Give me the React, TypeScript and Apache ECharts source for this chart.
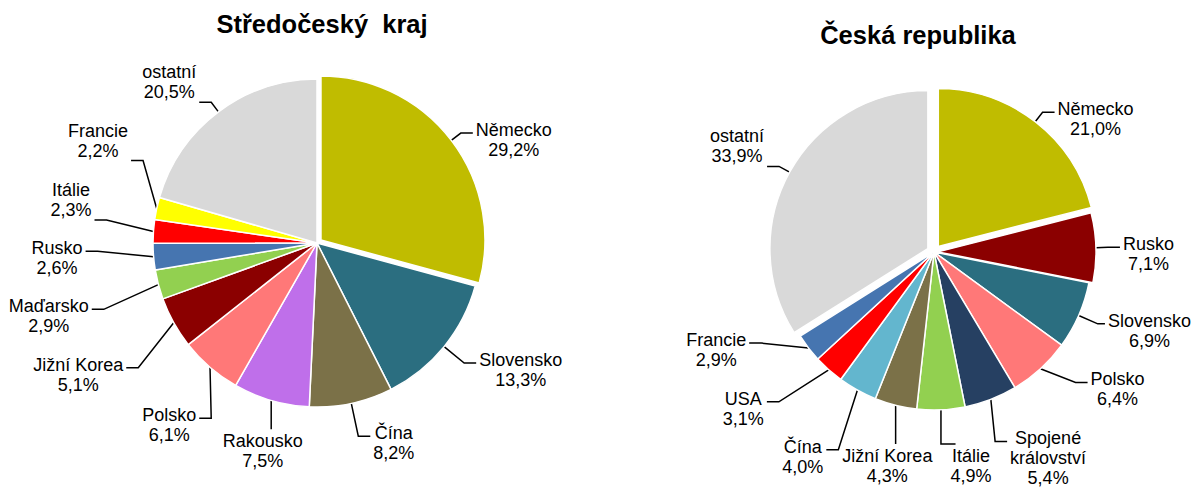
import React, { useEffect, useRef } from 'react';
import * as echarts from 'echarts';

// ---------- data ----------
const stcTitle = 'Středočeský  kraj';
const stcCategories = ['Německo', 'Slovensko', 'Čína', 'Rakousko', 'Polsko', 'Jižní Korea', 'Maďarsko', 'Rusko', 'Itálie', 'Francie', 'ostatní'];
const stcValues = [29.2, 13.3, 8.2, 7.5, 6.1, 5.1, 2.9, 2.6, 2.3, 2.2, 20.5];
const stcExploded = ['Německo'];

const crTitle = 'Česká republika';
const crCategories = ['Německo', 'Rusko', 'Slovensko', 'Polsko', 'Spojené království', 'Itálie', 'Jižní Korea', 'Čína', 'USA', 'Francie', 'ostatní'];
const crValues = [21.0, 7.1, 6.9, 6.4, 5.4, 4.9, 4.3, 4.0, 3.1, 2.9, 33.9];
const crExploded = ['Německo', 'Rusko', 'ostatní'];

// ---------- styles ----------
const stcColors = ['#C0BC00', '#2B6E80', '#7B7148', '#BF6FEA', '#FF7878', '#8B0000', '#92D050', '#4675B0', '#FF0000', '#FFFF00', '#D9D9D9'];
const crColors = ['#C0BC00', '#8B0000', '#2B6E80', '#FF7878', '#264062', '#92D050', '#7B7148', '#63B6CE', '#FF0000', '#4675B0', '#D9D9D9'];

const FONT_FAMILY = '"Liberation Sans", Arial, Helvetica, sans-serif';
const FONT_SIZE = 18;
const LINE_H = 20;
const SIDE_LEN = 12;
const SIDE_LEN_LOWER = 22;
const BOTTOM_LEN = 30;
const HSEG = 12;
const MAX_Y = 486;
const MIN_X = 3;
const MAX_X = 1191;

type PieSpec = {
  title: string;
  names: string[];
  values: number[];
  colors: string[];
  exploded: string[];
  cx: number;
  cy: number;
  r: number;
  explodeOffset: number[];
  pad: number;
  titleX: number;
  titleY: number;
};

const pies: PieSpec[] = [
  {
    title: stcTitle, names: stcCategories, values: stcValues, colors: stcColors, exploded: stcExploded,
    cx: 317, cy: 243, r: 164, explodeOffset: [5], pad: 18, titleX: 322, titleY: 24,
  },
  {
    title: crTitle, names: crCategories, values: crValues, colors: crColors, exploded: crExploded,
    cx: 934, cy: 252, r: 158, explodeOffset: [7, 4, 7], pad: 18, titleX: 918, titleY: 35,
  },
];

function labelName(n: string) {
  return n.length > 12 ? n.replace(' ', '\n') : n;
}
function labelText(n: string, v: number) {
  return labelName(n) + '\n' + v.toFixed(1).replace('.', ',') + '%';
}

type LabelItem = {
  mid: number; phi: number; w: number; h: number; off: number; L: number;
  x: number; y: number; bottom: boolean;
  bx: number; by: number; ax: number; ay: number; pts: number[][];
};

function computeLayout(p: PieSpec): LabelItem[] {
  const canvas = document.createElement('canvas');
  const ctx = canvas.getContext('2d')!;
  ctx.font = `${FONT_SIZE}px ${FONT_FAMILY}`;
  const total = p.values.reduce((a, b) => a + b, 0);
  let acc = 0;
  const isBottom = (phi: number) => {
    const s = Math.sin((phi * Math.PI) / 180);
    const c = -Math.cos((phi * Math.PI) / 180);
    return c > 0 && s > -0.3 && s < 0.1;
  };
  const items: LabelItem[] = p.values.map((v, i) => {
    const mid = ((acc + v / 2) / total) * 360;
    acc += v;
    const lines = labelText(p.names[i], v).split('\n');
    const w = Math.max(...lines.map((l) => ctx.measureText(l).width));
    const h = lines.length * LINE_H;
    const ei = p.exploded.indexOf(p.names[i]);
    const off = ei >= 0 ? p.explodeOffset[ei] : 0;
    const bottom = isBottom(mid);
    const lower = Math.max(0, -Math.cos((mid * Math.PI) / 180));
    return {
      mid, phi: mid, w, h, off, L: bottom ? BOTTOM_LEN : SIDE_LEN + SIDE_LEN_LOWER * lower,
      x: 0, y: 0, bottom, bx: 0, by: 0, ax: 0, ay: 0, pts: [],
    };
  });
  const place = (it: LabelItem) => {
    const rad = (it.phi * Math.PI) / 180;
    const sx = Math.sin(rad);
    const sy = -Math.cos(rad);
    let R = p.r + it.off + it.L;
    if (it.bottom && sy > 0) {
      const rMax = (MAX_Y - it.h - 2 - p.cy) / sy;
      R = Math.max(p.r + it.off + 8, Math.min(R, rMax));
    }
    it.bx = p.cx + R * sx;
    it.by = p.cy + R * sy;
    let x0: number;
    let y0: number;
    if (!it.bottom) {
      const right = sx > 0;
      it.ax = it.bx + (right ? HSEG : -HSEG);
      it.ay = it.by;
      const upperLeft = !right && sy < 0;
      x0 = right ? it.ax + 3 : it.ax - 3 - it.w;
      y0 = upperLeft ? it.ay - it.h : it.ay - 13;
      // keep the text inside the chart
      if (right && x0 + it.w > MAX_X) {
        x0 = MAX_X - it.w;
        it.ax = Math.max(it.bx, x0 - 3);
      } else if (!right && x0 < MIN_X) {
        x0 = MIN_X;
        it.ax = Math.min(it.bx, x0 + it.w + 3);
      }
    } else {
      it.ax = it.bx;
      it.ay = it.by;
      x0 = it.bx - it.w / 2;
      y0 = it.by + 2;
    }
    it.x = x0 + it.w / 2;
    it.y = y0 + it.h / 2;
  };
  items.forEach(place);
  const overlap = (a: LabelItem, b: LabelItem) =>
    Math.abs(a.x - b.x) < (a.w + b.w) / 2 + p.pad && Math.abs(a.y - b.y) < (a.h + b.h) / 2 + p.pad;
  const n = items.length;
  for (let iter = 0; iter < 4000; iter++) {
    let moved = false;
    for (let k = 0; k < n; k++) {
      const a = items[k];
      const b = items[(k + 1) % n];
      if (overlap(a, b)) {
        a.phi -= 0.2;
        b.phi += 0.2;
        a.L += 0.25;
        b.L += 0.25;
        place(a);
        place(b);
        moved = true;
      }
    }
    if (!moved) break;
  }
  // leader lines
  items.forEach((it) => {
    const rad = (it.mid * Math.PI) / 180;
    const ex = p.cx + (p.r + it.off) * Math.sin(rad);
    const ey = p.cy - (p.r + it.off) * Math.cos(rad);
    if (it.bottom) {
      const x0 = it.x - it.w / 2;
      const x1 = it.x + it.w / 2;
      const yEnd = it.y - it.h / 2 - 2;
      const axc = Math.min(Math.max(ex, x0 + 5), x1 - 5);
      it.pts = [[ex, ey], [ex, yEnd], [axc, yEnd]];
    } else {
      it.pts = [[ex, ey], [it.bx, it.by], [it.ax, it.ay]];
    }
  });
  return items;
}

function buildSeries(p: PieSpec): any[] {
  const layout = computeLayout(p);
  const isExp = (n: string) => p.exploded.indexOf(n) >= 0;
  const base = {
    type: 'pie',
    center: [p.cx, p.cy],
    radius: p.r,
    startAngle: 90,
    clockwise: true,
    silent: true,
    avoidLabelOverlap: false,
    emphasis: { disabled: true },
    data: p.names.map((n, i) => ({
      name: n,
      value: p.values[i],
      itemStyle: isExp(n)
        ? { color: 'rgba(0,0,0,0)', borderWidth: 0 }
        : { color: p.colors[i], borderColor: '#ffffff', borderWidth: 1.5 },
    })),
    label: {
      show: true,
      position: 'outside',
      formatter: (prm: any) => labelText(prm.name, prm.value),
      color: '#000000',
      fontFamily: FONT_FAMILY,
      fontSize: FONT_SIZE,
      lineHeight: LINE_H,
    },
    labelLine: { show: true, length: 10, length2: 10, smooth: false, lineStyle: { color: '#000000', width: 1.5 } },
    labelLayout: (prm: any) => {
      const it = layout[prm.dataIndex];
      if (!it) return {};
      return { x: it.x, y: it.y, align: 'center', verticalAlign: 'middle', labelLinePoints: it.pts };
    },
    z: 2,
  };
  const overlays = p.exploded.map((name, k) => {
    const idx = p.names.indexOf(name);
    const it = layout[idx];
    const rad = (it.mid * Math.PI) / 180;
    const off = p.explodeOffset[k];
    return {
      type: 'pie',
      center: [p.cx + off * Math.sin(rad), p.cy - off * Math.cos(rad)],
      radius: p.r,
      startAngle: 90,
      clockwise: true,
      silent: true,
      emphasis: { disabled: true },
      label: { show: false },
      labelLine: { show: false },
      data: p.names.map((n, i) => ({
        name: n,
        value: p.values[i],
        itemStyle: i === idx
          ? { color: p.colors[i], borderColor: '#ffffff', borderWidth: 1.5 }
          : { color: 'rgba(0,0,0,0)', borderWidth: 0 },
      })),
      z: 3,
    };
  });
  return [base, ...overlays];
}

export default function App() {
  const ref = useRef<HTMLDivElement>(null);
  useEffect(() => {
    document.body.style.margin = '0';
    if (!ref.current) return;
    const chart = echarts.init(ref.current, undefined, { renderer: 'svg' });
    const series: any[] = [];
    pies.forEach((p) => series.push(...buildSeries(p)));
    chart.setOption({
      animation: false,
      backgroundColor: '#ffffff',
      graphic: pies.map((p) => ({
        type: 'text',
        x: p.titleX,
        y: p.titleY,
        silent: true,
        style: {
          text: p.title,
          fill: '#000000',
          font: `bold 25.5px ${FONT_FAMILY}`,
          align: 'center',
          verticalAlign: 'middle',
          textAlign: 'center',
          textVerticalAlign: 'middle',
        },
      })),
      series,
    });
    return () => chart.dispose();
  }, []);
  return <div ref={ref} style={{ width: 1195, height: 497 }} />;
}
